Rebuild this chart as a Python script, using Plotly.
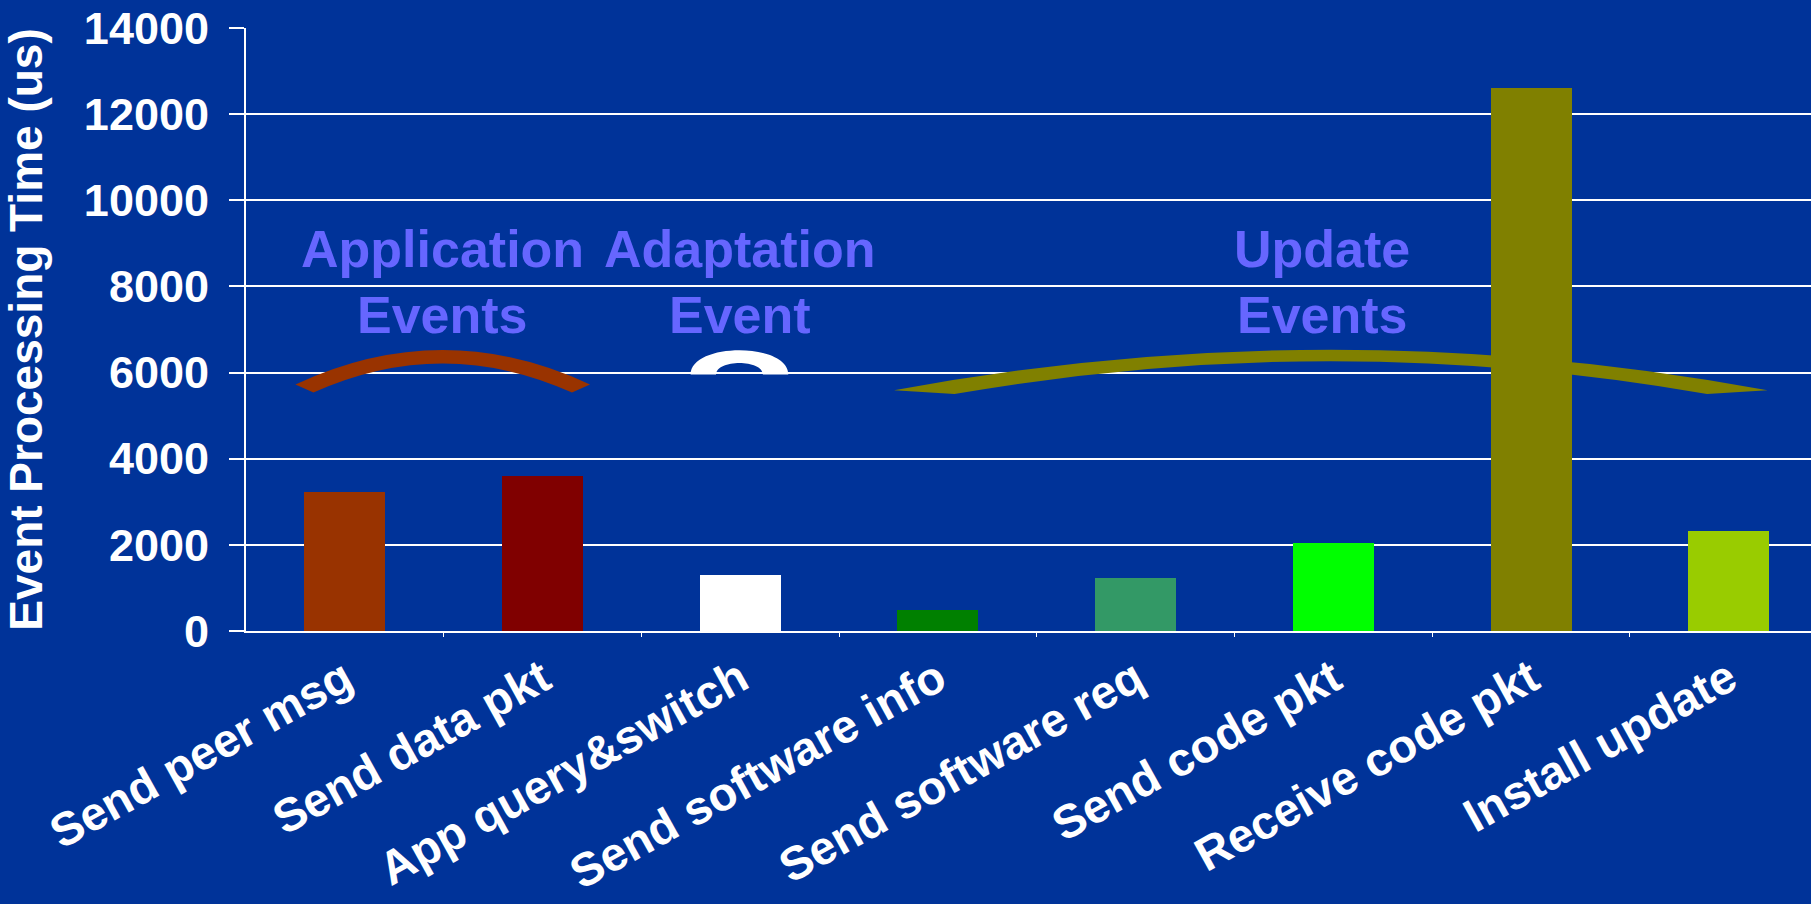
import plotly.graph_objects as go

# Event processing time per event type
categories = [
    "Send peer msg", "Send data pkt", "App query&switch", "Send software info",
    "Send software req", "Send code pkt", "Receive code pkt", "Install update",
]
times_us = [3220, 3600, 1300, 480, 1220, 2050, 12600, 2330]
bar_colors = ["#993300", "#800000", "#FFFFFF", "#008000",
              "#339966", "#00FF00", "#808000", "#99CC00"]
y_tick_values = [0, 2000, 4000, 6000, 8000, 10000, 12000, 14000]

# Group captions: first line, second line, centre (category index)
group_line1 = ["Application", "Adaptation", "Update"]
group_line2 = ["Events", "Event", "Events"]
group_center = [0.495, 2.0, 4.945]

BG = "#003399"
LABEL = "#6666FF"
FONT = "Arial, Liberation Sans, sans-serif"

x_pos = list(range(len(categories)))

fig = go.Figure(
    go.Bar(
        x=x_pos,
        y=times_us,
        width=0.41,
        marker=dict(color=bar_colors, line=dict(width=0)),
        hovertext=categories,
    )
)


def bracket_quad(xc, hw_out, hw_in, y_end_out, y_end_in, y_top_out, y_top_in):
    """Thick curved bracket built from two quadratic curves."""
    c_out = 2 * y_top_out - y_end_out
    c_in = 2 * y_top_in - y_end_in
    return (
        f"M {xc - hw_out},{y_end_out} Q {xc},{c_out} {xc + hw_out},{y_end_out} "
        f"L {xc + hw_in},{y_end_in} Q {xc},{c_in} {xc - hw_in},{y_end_in} Z"
    )


def bracket_half_ring(xc, hw_out, hw_in, y_base, y_top_out, y_top_in):
    """Half elliptical ring sitting on y_base."""
    k_out = y_base + 4.0 / 3.0 * (y_top_out - y_base)
    k_in = y_base + 4.0 / 3.0 * (y_top_in - y_base)
    return (
        f"M {xc - hw_out},{y_base} C {xc - hw_out},{k_out} {xc + hw_out},{k_out} {xc + hw_out},{y_base} "
        f"L {xc + hw_in},{y_base} C {xc + hw_in},{k_in} {xc - hw_in},{k_in} {xc - hw_in},{y_base} Z"
    )


shapes = [
    dict(type="path", xref="x", yref="y", layer="above", line=dict(width=0),
         fillcolor="#993300",
         path=bracket_quad(0.495, 0.745, 0.654, 5725, 5535, 6525, 6210)),
    dict(type="path", xref="x", yref="y", layer="above", line=dict(width=0),
         fillcolor="#FFFFFF",
         path=bracket_half_ring(1.996, 0.247, 0.1185, 5954, 6518, 6225)),
    dict(type="path", xref="x", yref="y", layer="above", line=dict(width=0),
         fillcolor="#808000",
         path=bracket_quad(4.987, 2.209, 1.9035, 5589, 5500, 6530, 6265)),
]

annotations = []
for l1, l2, xc in zip(group_line1, group_line2, group_center):
    for txt, yv in ((l1, 8871), (l2, 7343)):
        annotations.append(dict(
            x=xc, y=yv, xref="x", yref="y", text=txt, showarrow=False,
            xanchor="center", yanchor="middle",
            font=dict(family=FONT, size=52, color=LABEL, weight="bold"),
        ))

fig.update_layout(
    width=1811,
    height=904,
    margin=dict(l=246, r=0, t=28, b=273, autoexpand=False),
    paper_bgcolor=BG,
    plot_bgcolor=BG,
    showlegend=False,
    bargap=0,
    shapes=shapes,
    annotations=annotations,
    font=dict(family=FONT, color="white", size=45, weight="bold"),
)

fig.update_xaxes(
    range=[-0.5, 7.416],
    tickmode="array",
    tickvals=x_pos,
    ticktext=categories,
    tickangle=-29,
    ticks="",
    tickfont=dict(family=FONT, size=47, color="white", weight="bold"),
    showgrid=False,
    zeroline=False,
    showline=True,
    linecolor="white",
    linewidth=2,
    minor=dict(tickmode="array", tickvals=[i + 0.5 for i in x_pos],
               ticks="outside", ticklen=4, tickcolor="white", tickwidth=1),
    automargin=False,
)

fig.update_yaxes(
    range=[0, 14000],
    tickmode="array",
    tickvals=y_tick_values,
    ticktext=[str(v) for v in y_tick_values],
    ticks="outside",
    ticklen=15,
    tickcolor="white",
    tickwidth=2,
    ticklabelstandoff=11,
    tickfont=dict(family=FONT, size=45, color="white", weight="bold"),
    showgrid=True,
    gridcolor="white",
    gridwidth=2,
    zeroline=False,
    showline=True,
    linecolor="white",
    linewidth=2,
    title=dict(text="Event Processing Time (us)", standoff=30,
               font=dict(family=FONT, size=46, color="white", weight="bold")),
    automargin=False,
)

fig.write_html("out.html")
